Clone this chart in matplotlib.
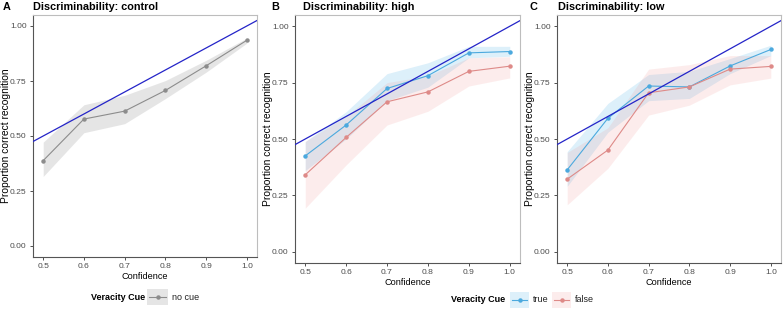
import matplotlib.pyplot as plt

plt.rcParams['font.family'] = ['Liberation Sans', 'DejaVu Sans']

conf = [0.5, 0.6, 0.7, 0.8, 0.9, 1.0]

# control
ctrl = [0.388, 0.577, 0.613, 0.707, 0.819, 0.935]
ctrl_lo = [0.316, 0.515, 0.556, 0.670, 0.790, 0.922]
ctrl_hi = [0.472, 0.642, 0.685, 0.752, 0.844, 0.945]

# high discriminability
high_true = [0.425, 0.562, 0.724, 0.781, 0.882, 0.888]
high_true_lo = [0.360, 0.500, 0.670, 0.730, 0.860, 0.867]
high_true_hi = [0.488, 0.621, 0.790, 0.838, 0.911, 0.911]
high_false = [0.341, 0.507, 0.665, 0.709, 0.800, 0.823]
high_false_lo = [0.193, 0.385, 0.562, 0.623, 0.735, 0.771]
high_false_hi = [0.490, 0.600, 0.750, 0.780, 0.860, 0.865]

# low discriminability
low_true = [0.363, 0.592, 0.735, 0.731, 0.824, 0.897]
low_true_lo = [0.290, 0.530, 0.670, 0.680, 0.790, 0.870]
low_true_hi = [0.444, 0.658, 0.786, 0.800, 0.857, 0.916]
low_false = [0.322, 0.451, 0.705, 0.731, 0.810, 0.822]
low_false_lo = [0.208, 0.370, 0.606, 0.650, 0.740, 0.770]
low_false_hi = [0.440, 0.550, 0.810, 0.830, 0.870, 0.870]

C_TRUE = '#4BA9DE'
C_FALSE = '#DE8A88'
C_CTRL = '#8C8C8C'
C_ID = '#2424C8'
F_TRUE, A_TRUE = '#56B4E9', 0.2
F_FALSE, A_FALSE = '#F28E8C', 0.16
F_CTRL, A_CTRL = '#9a9a9a', 0.25

W, H = 783, 310
fig = plt.figure(figsize=(W / 100, H / 100), dpi=100)


def box(l, t, r, b):
    return [l / W, 1 - b / H, (r - l) / W, (b - t) / H]


def style(ax, letter, lx, title, tx):
    ax.set_xlim(0.475, 1.025)
    ax.set_ylim(-0.05, 1.05)
    ax.set_xticks(conf)
    ax.set_xticklabels(['0.5', '0.6', '0.7', '0.8', '0.9', '1.0'])
    ax.set_yticks([0, 0.25, 0.5, 0.75, 1.0])
    ax.set_yticklabels(['0.00', '0.25', '0.50', '0.75', '1.00'])
    ax.tick_params(labelsize=6.1, labelcolor='#4d4d4d', color='#333333', length=2.5, width=0.6, pad=2)
    for s in ['top', 'right']:
        ax.spines[s].set_color('#bdbdbd')
        ax.spines[s].set_linewidth(0.8)
    for s in ['left', 'bottom']:
        ax.spines[s].set_color('#555555')
        ax.spines[s].set_linewidth(0.8)
    ax.set_xlabel('Confidence', fontsize=6.6, labelpad=1.5)
    ax.set_ylabel('Proportion correct recognition', fontsize=7.4)
    ax.yaxis.set_label_coords(-0.098, 0.5)
    ax.plot([0, 1.1], [0, 1.1], color=C_ID, lw=0.9, zorder=5)
    fig.text(lx / W, 1 - 7 / H, letter, fontsize=7.8, fontweight='bold', va='center')
    fig.text(tx / W, 1 - 7 / H, title, fontsize=7.8, fontweight='bold', va='center')


def series(ax, y, lo, hi, col, fill, alpha):
    ax.fill_between(conf, lo, hi, color=fill, alpha=alpha, lw=0)
    ax.plot(conf, y, color=col, lw=0.8, marker='o', ms=2.2, zorder=4)


axA = fig.add_axes(box(33, 15, 257, 257))
series(axA, ctrl, ctrl_lo, ctrl_hi, C_CTRL, F_CTRL, A_CTRL)
style(axA, 'A', 3, 'Discriminability: control', 33)

axB = fig.add_axes(box(295, 15, 520, 263))
series(axB, high_true, high_true_lo, high_true_hi, C_TRUE, F_TRUE, A_TRUE)
series(axB, high_false, high_false_lo, high_false_hi, C_FALSE, F_FALSE, A_FALSE)
style(axB, 'B', 271, 'Discriminability: high', 303)

axC = fig.add_axes(box(557, 15, 781, 263))
series(axC, low_true, low_true_lo, low_true_hi, C_TRUE, F_TRUE, A_TRUE)
series(axC, low_false, low_false_lo, low_false_hi, C_FALSE, F_FALSE, A_FALSE)
style(axC, 'C', 530, 'Discriminability: low', 558)


def key(l, r, yc, label, col, fill, alpha):
    k = fig.add_axes(box(l, yc - 8, r, yc + 8))
    k.set_xlim(0, 1)
    k.set_ylim(0, 1)
    k.axis('off')
    k.fill_between([0, 1], 0, 1, color=fill, alpha=alpha, lw=0)
    k.plot([0.1, 0.9], [0.5, 0.5], color=col, lw=0.8)
    k.plot([0.5], [0.5], color=col, marker='o', ms=2.2)
    fig.text((r + 4) / W, 1 - yc / H, label, fontsize=6.5, va='center', color='#222222')


fig.text(91 / W, 1 - 297 / H, 'Veracity Cue', fontsize=6.5, fontweight='bold', va='center')
key(147, 168, 297, 'no cue', C_CTRL, F_CTRL, A_CTRL)

fig.text(451 / W, 1 - 300 / H, 'Veracity Cue', fontsize=6.5, fontweight='bold', va='center')
key(510, 529, 300, 'true', C_TRUE, F_TRUE, A_TRUE)
key(552, 571, 300, 'false', C_FALSE, F_FALSE, A_FALSE)

fig.savefig('out.png', dpi=100)
